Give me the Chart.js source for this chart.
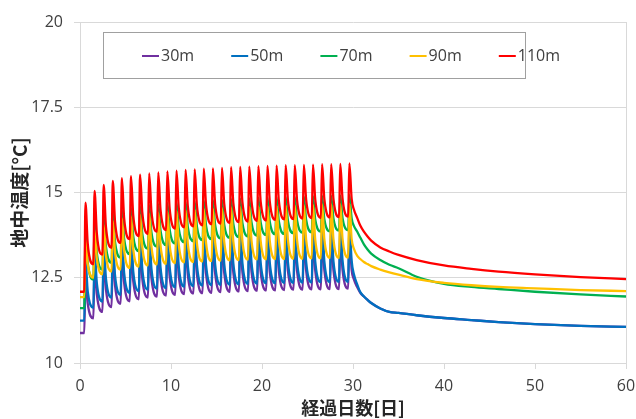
<!DOCTYPE html>
<html><head><meta charset="utf-8">
<script src="https://cdn.jsdelivr.net/npm/chart.js@4/dist/chart.umd.min.js"></script>
<style>html,body{margin:0;padding:0;background:#fff;} #wrap{width:636px;height:419px;}</style>
</head><body><div id="wrap"><canvas id="c" width="636" height="419"></canvas></div>
<script>
const seriesLabels = ['30m', '50m', '70m', '90m', '110m'];
const seriesColors = ['#7030A0', '#0070C0', '#00B050', '#FFC000', '#FF0000'];
const xTitle = '経過日数[日]';
const yTitle = '地中温度[°C]';

// day index of each daily heating cycle
const cycleDays = [0,1,2,3,4,5,6,7,8,9,10,11,12,13,14,15,16,17,18,19,20,21,22,23,24,25,26,27,28,29];
// days after the last heating peak (recovery period)
const recoveryDays = [29.85,30.1,30.47,30.8,31.2,31.6,32,33,34,35,37,40,43,46,50,55,60];

// 30m
const trough30 = [10.88,11.31,11.50,11.64,11.74,11.81,11.87,11.92,11.95,11.98,12.00,12.02,12.04,12.05,12.06,12.08,12.09,12.10,12.11,12.12,12.13,12.13,12.14,12.15,12.15,12.16,12.16,12.17,12.17,12.18];
const peak30 = [12.55,12.95,13.13,13.26,13.34,13.40,13.45,13.49,13.52,13.55,13.57,13.59,13.61,13.62,13.64,13.65,13.66,13.67,13.68,13.69,13.70,13.71,13.72,13.72,13.73,13.74,13.75,13.75,13.76,13.77];
const knee30 = [11.74,12.01,12.16,12.27,12.35,12.41,12.46,12.49,12.52,12.54,12.56,12.58,12.60,12.61,12.63,12.64,12.65,12.66,12.67,12.68,12.68,12.69,12.70,12.70,12.71,12.71,12.72,12.72,12.73];
const recovery30 = [12.73,12.45,12.22,12.06,11.95,11.85,11.76,11.60,11.50,11.47,11.40,11.32,11.26,11.20,11.14,11.09,11.06];

// 50m
const trough50 = [11.24,11.62,11.80,11.92,12.00,12.06,12.11,12.15,12.18,12.20,12.22,12.24,12.25,12.27,12.28,12.29,12.30,12.31,12.32,12.33,12.34,12.34,12.35,12.35,12.36,12.36,12.37,12.37,12.38,12.38];
const peak50 = [13.00,13.35,13.52,13.64,13.72,13.78,13.83,13.87,13.90,13.93,13.95,13.97,13.99,14.00,14.02,14.03,14.04,14.05,14.06,14.07,14.08,14.09,14.10,14.10,14.11,14.12,14.13,14.13,14.14,14.15];
const knee50 = [12.10,12.34,12.48,12.57,12.64,12.69,12.74,12.77,12.80,12.82,12.84,12.85,12.87,12.88,12.90,12.91,12.92,12.93,12.94,12.95,12.95,12.96,12.96,12.97,12.97,12.98,12.99,12.99,13.00];
const recovery50 = [13.00,12.60,12.30,12.08,11.95,11.85,11.76,11.60,11.50,11.47,11.40,11.32,11.26,11.20,11.14,11.09,11.06];

// 70m
const trough70 = [11.61,12.45,12.74,12.94,13.08,13.19,13.28,13.35,13.41,13.46,13.50,13.54,13.57,13.60,13.63,13.65,13.67,13.69,13.71,13.73,13.75,13.77,13.78,13.80,13.82,13.83,13.85,13.86,13.88,13.89];
const peak70 = [13.85,14.15,14.30,14.42,14.49,14.55,14.59,14.63,14.66,14.69,14.71,14.73,14.75,14.77,14.78,14.79,14.81,14.82,14.83,14.84,14.85,14.86,14.87,14.87,14.88,14.89,14.90,14.90,14.91,14.92];
const knee70 = [12.94,13.23,13.42,13.55,13.65,13.72,13.78,13.83,13.88,13.92,13.95,13.98,14.00,14.03,14.05,14.06,14.08,14.10,14.12,14.13,14.15,14.16,14.17,14.19,14.20,14.21,14.22,14.24,14.25];
const recovery70 = [14.25,14.02,13.85,13.68,13.48,13.33,13.21,13.02,12.88,12.78,12.53,12.32,12.23,12.17,12.09,12.01,11.95];

// 90m
const trough90 = [11.93,12.50,12.60,12.68,12.74,12.79,12.83,12.86,12.89,12.91,12.93,12.95,12.96,12.98,12.99,13.00,13.01,13.02,13.03,13.04,13.04,13.05,13.05,13.06,13.06,13.07,13.07,13.08,13.08,13.09];
const peak90 = [13.62,13.90,14.05,14.17,14.24,14.30,14.34,14.38,14.41,14.44,14.46,14.48,14.50,14.52,14.53,14.54,14.56,14.57,14.58,14.59,14.60,14.61,14.62,14.62,14.63,14.64,14.65,14.65,14.66,14.67];
const knee90 = [12.89,13.06,13.16,13.24,13.30,13.34,13.38,13.41,13.44,13.46,13.48,13.49,13.51,13.53,13.54,13.55,13.56,13.57,13.58,13.58,13.59,13.60,13.61,13.61,13.62,13.62,13.63,13.63,13.64];
const recovery90 = [13.64,13.35,13.14,13.05,12.96,12.90,12.84,12.74,12.66,12.59,12.46,12.35,12.28,12.23,12.19,12.14,12.11];

// 110m
const trough110 = [12.09,12.90,13.18,13.38,13.52,13.63,13.72,13.79,13.85,13.90,13.94,13.98,14.01,14.04,14.07,14.09,14.11,14.13,14.15,14.17,14.18,14.20,14.21,14.22,14.24,14.25,14.26,14.27,14.28,14.29];
const peak110 = [14.70,15.05,15.22,15.34,15.42,15.48,15.52,15.56,15.59,15.62,15.64,15.66,15.68,15.70,15.71,15.72,15.74,15.75,15.76,15.77,15.78,15.79,15.80,15.80,15.81,15.82,15.83,15.83,15.84,15.85];
const knee110 = [13.50,13.80,14.00,14.15,14.25,14.33,14.40,14.45,14.49,14.53,14.56,14.59,14.61,14.64,14.66,14.67,14.69,14.71,14.73,14.74,14.75,14.76,14.77,14.78,14.79,14.80,14.81,14.81,14.82];
const recovery110 = [14.82,14.50,14.25,14.03,13.85,13.71,13.59,13.39,13.27,13.17,13.02,12.86,12.76,12.68,12.60,12.52,12.46];

const yTicks = [10, 12.5, 15, 17.5, 20];

// phase of each daily cycle (fraction of day): heating starts, peak, early decay
const PH_RISE = 0.47, PH_PEAK = 0.6, PH_KNEE = 0.85;

function buildSeries(trough, peak, knee, recovery) {
  const pts = [{x: 0, y: trough[0]}];
  cycleDays.forEach((d, n) => {
    pts.push({x: d + PH_RISE, y: trough[n]});
    pts.push({x: d + PH_PEAK, y: peak[n]});
    if (n < knee.length) pts.push({x: d + PH_KNEE, y: knee[n]});
  });
  recoveryDays.forEach((d, k) => pts.push({x: d, y: recovery[k]}));
  return pts;
}

const seriesData = [
  buildSeries(trough30, peak30, knee30, recovery30),
  buildSeries(trough50, peak50, knee50, recovery50),
  buildSeries(trough70, peak70, knee70, recovery70),
  buildSeries(trough90, peak90, knee90, recovery90),
  buildSeries(trough110, peak110, knee110, recovery110)
];

const tickFont = {family: "'Open Sans', 'DejaVu Sans', sans-serif", size: 16};
const titleFont = {family: "'Noto Sans CJK JP', sans-serif", size: 18, weight: 'bold'};

const legendPlugin = {
  id: 'boxLegend',
  afterDatasetsDraw(chart) {
    const ctx = chart.ctx;
    ctx.save();
    ctx.fillStyle = '#ffffff';
    ctx.fillRect(103.5, 32.5, 422, 46);
    ctx.strokeStyle = '#a0a0a0';
    ctx.lineWidth = 1;
    ctx.strokeRect(103.5, 32.5, 422, 46);
    ctx.font = "16px 'Open Sans', sans-serif";
    ctx.textBaseline = 'middle';
    chart.data.datasets.forEach((ds, i) => {
      const x0 = 142 + i * 89.2;
      const y0 = 56;
      ctx.strokeStyle = ds.borderColor;
      ctx.lineWidth = 2;
      ctx.beginPath();
      ctx.moveTo(x0, y0);
      ctx.lineTo(x0 + 17, y0);
      ctx.stroke();
      ctx.fillStyle = '#404040';
      ctx.fillText(ds.label, x0 + 19, y0);
    });
    ctx.restore();
  }
};

new Chart(document.getElementById('c'), {
  type: 'line',
  data: {
    datasets: seriesLabels.map((lab, i) => ({
      label: lab,
      data: seriesData[i],
      borderColor: seriesColors[i],
      backgroundColor: seriesColors[i],
      borderWidth: 2.3,
      pointRadius: 0,
      fill: false,
      cubicInterpolationMode: 'monotone',
      order: seriesLabels.length - 1 - i
    }))
  },
  options: {
    responsive: false,
    animation: false,
    devicePixelRatio: 1,
    layout: {padding: {top: 22, right: 10, bottom: 0, left: 0}},
    plugins: {legend: {display: false}, tooltip: {enabled: false}},
    scales: {
      x: {
        type: 'linear', min: 0, max: 60,
        ticks: {stepSize: 10, font: tickFont, color: '#404040', padding: 8, maxRotation: 0},
        grid: {
          color: (c) => (c.tick && c.tick.value === 60) ? '#d9d9d9' : 'rgba(0,0,0,0)',
          tickColor: '#d9d9d9', tickLength: 6, drawOnChartArea: true
        },
        border: {color: '#d9d9d9'},
        title: {display: true, text: xTitle, font: titleFont, color: '#262626', padding: {top: 0, bottom: 0}},
        afterFit: (s) => { s.height = 56; s.paddingLeft = 0; s.paddingRight = 0; }
      },
      y: {
        type: 'linear', min: 10, max: 20,
        afterBuildTicks: (s) => { s.ticks = yTicks.map(v => ({value: v})); },
        ticks: {font: tickFont, color: '#404040', padding: 11},
        grid: {color: '#d9d9d9', tickColor: '#d9d9d9', tickLength: 6},
        border: {color: '#d9d9d9'},
        title: {display: true, text: yTitle, font: {family: "'Noto Sans CJK JP', sans-serif", size: 19, weight: 'bold'}, color: '#262626', padding: {top: 8, bottom: 0}},
        afterFit: (s) => { s.width = 80; s.paddingTop = 0; s.paddingBottom = 0; }
      }
    }
  },
  plugins: [legendPlugin]
});
</script>
</body></html>
